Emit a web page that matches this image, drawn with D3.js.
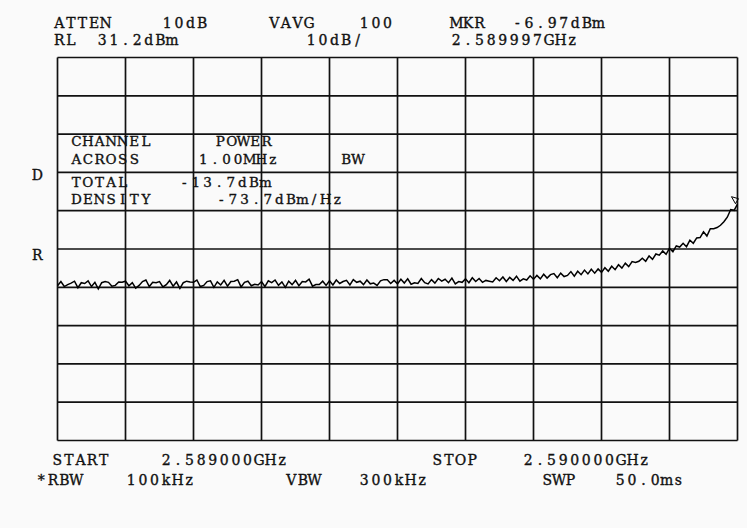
<!DOCTYPE html>
<html>
<head>
	<script src="https://cdn.jsdelivr.net/npm/d3@7"></script>
	<style>
		html, body {
			padding: 0;
			margin: 0;
			background: #fafafa;
		}
		text {
			font-family: "DejaVu Serif", "Liberation Serif", serif;
			font-size: 14px;
			fill: #111;
			stroke: #111;
			stroke-width: 0.35px;
		}
		text.chan {
			font-size: 13.5px;
		}
	</style>
</head>
<body>
	<script>
		var W = 747, H = 528;

		/* sweep settings */
		var startMHz = 2589.000, stopMHz = 2590.000;
		var refLevel = 31.2, dbPerDiv = 10;
		var markerMHz = 2589.997, markerDbm = -6.97;

		/* trace, dBm, 201 points from start to stop (5 kHz apart) */
		var trace = [
			-28.4,-27.3,-28.6,-28.1,-27.7,-27.2,-28.9,-27.6,-27.8,-27.1,
			-28.6,-27.5,-29.2,-27.6,-27.3,-27.5,-28.5,-28.3,-27.4,-27.5,
			-27.2,-28.4,-27.6,-29.0,-28.3,-27.3,-26.9,-28.6,-27.5,-27.6,
			-27.3,-28.7,-28.1,-27.0,-28.5,-27.4,-29.1,-27.6,-27.2,-27.4,
			-27.5,-26.9,-28.6,-28.3,-27.3,-27.1,-28.8,-27.4,-28.2,-27.0,
			-28.5,-27.3,-27.2,-26.8,-28.7,-27.5,-27.2,-28.4,-28.0,-28.2,
			-27.3,-28.6,-27.1,-27.6,-26.9,-28.3,-27.4,-28.8,-27.2,-28.1,
			-27.0,-28.4,-27.3,-27.4,-26.7,-28.5,-28.1,-28.1,-27.2,-28.3,
			-27.1,-28.2,-26.9,-27.8,-27.3,-27.0,-28.2,-26.8,-27.5,-27.2,
			-28.1,-26.9,-27.9,-27.7,-28.3,-27.1,-26.8,-26.8,-27.8,-27.0,
			-27.9,-26.7,-27.7,-26.6,-28.0,-27.6,-27.8,-26.5,-27.6,-27.9,
			-26.8,-27.7,-26.5,-27.2,-26.7,-27.6,-26.4,-27.9,-27.3,-27.5,
			-26.6,-27.6,-26.3,-27.3,-26.5,-27.5,-27.0,-27.2,-27.4,-26.3,
			-27.1,-26.1,-27.3,-26.2,-27.0,-25.9,-27.2,-26.6,-26.9,-25.8,
			-26.7,-25.7,-26.6,-25.4,-26.4,-25.5,-25.2,-26.3,-25.1,-26.0,
			-25.7,-24.7,-25.9,-24.6,-25.5,-24.3,-25.3,-24.1,-25.1,-24.0,
			-24.9,-23.7,-24.6,-23.3,-24.2,-22.9,-23.8,-22.5,-23.4,-22.1,
			-22.3,-22.0,-21.2,-22.0,-20.6,-21.5,-20.1,-20.4,-19.3,-20.2,
			-18.6,-19.5,-18.0,-18.3,-17.3,-18.2,-16.5,-17.3,-15.9,-15.8,
			-14.3,-15.4,-13.5,-13.5,-13.2,-12.6,-11.7,-10.5,-8.5,-8.7,
			-7.1
		];

		/* screen annotations */
		var topRow1 = ["ATTEN", "10dB", "VAVG", "100", "MKR", "-6.97dBm"];
		var topRow2 = ["RL", "31.2dBm", "10dB/", "2.589997GHz"];
		var botRow1 = ["START", "2.589000GHz", "STOP", "2.590000GHz"];
		var botRow2 = ["*RBW", "100kHz", "VBW", "300kHz", "SWP", "50.0ms"];
		var sideLabels = ["D", "R"];
		var chanRows = [
			["CHANNEL", "POWER"],
			["ACROSS", "1.00MHz", "BW"],
			["TOTAL", "-13.7dBm"],
			["DENSITY", "-73.7dBm/Hz"]
		];

		var svg = d3.select('body').append('svg')
			.attr('width', W)
			.attr('height', H);

		var x = d3.scaleLinear().domain([startMHz, stopMHz]).range([57.5, 737.5]);
		var y = d3.scaleLinear().domain([refLevel - 10 * dbPerDiv, refLevel]).range([440.5, 57.5]);

		/* grid: 10 x 10 divisions */
		var xDivs = d3.range(0, 11).map(function(i) { return startMHz + i * (stopMHz - startMHz) / 10; });
		var yDivs = d3.range(0, 11).map(function(i) { return refLevel - i * dbPerDiv; });

		var grid = svg.append('g')
			.attr('stroke', '#111')
			.attr('stroke-width', 1.7);
		grid.selectAll('line.v').data(xDivs).enter().append('line')
			.attr('class', 'v')
			.attr('x1', function(d) { return x(d); })
			.attr('x2', function(d) { return x(d); })
			.attr('y1', y.range()[1])
			.attr('y2', y.range()[0]);
		grid.selectAll('line.h').data(yDivs).enter().append('line')
			.attr('class', 'h')
			.attr('x1', x.range()[0])
			.attr('x2', x.range()[1])
			.attr('y1', function(d) { return y(d); })
			.attr('y2', function(d) { return y(d); });

		/* trace */
		var step = (stopMHz - startMHz) / (trace.length - 1);
		var line = d3.line()
			.x(function(d, i) { return x(startMHz + i * step); })
			.y(function(d) { return y(d); });
		svg.append('path')
			.datum(trace)
			.attr('d', line)
			.attr('fill', 'none')
			.attr('stroke', '#000')
			.attr('stroke-width', 1.5);

		/* marker glyph */
		var mx = x(markerMHz), my = y(markerDbm);
		svg.append('path')
			.attr('d', 'M' + mx + ',' + my + 'l-4,-7 l7,2 z')
			.attr('fill', 'none')
			.attr('stroke', '#000')
			.attr('stroke-width', 1);

		/* fixed pitch text, like the analyser's character cells */
		var pitch = 11.6;
		var put = function(list, xs, yb, cls) {
			list.forEach(function(t, i) {
				var txt = svg.append('text')
					.attr('class', cls || null)
					.attr('y', yb)
					.attr('text-anchor', 'middle');
				t.split('').forEach(function(ch, k) {
					txt.append('tspan')
						.attr('x', xs[i] - 1.5 + (k + 0.5) * pitch)
						.text(ch);
				});
			});
		};

		put(topRow1, [55, 163, 270, 360, 452, 513], 28);
		put(topRow2, [55, 98, 307, 452], 45);
		put(botRow1, [53, 162, 433, 524], 465);
		put(botRow2, [37, 127, 287, 360, 543, 616], 485);
		put([sideLabels[0]], [33], 180);
		put([sideLabels[1]], [33], 260);

		var chanX = [[72, 216], [72, 199, 342], [72, 180], [72, 217]];
		var chanY = [146.3, 163.5, 186.5, 203.7];
		chanRows.forEach(function(row, r) {
			put(row, chanX[r], chanY[r], 'chan');
		});
	</script>
</body>
</html>
